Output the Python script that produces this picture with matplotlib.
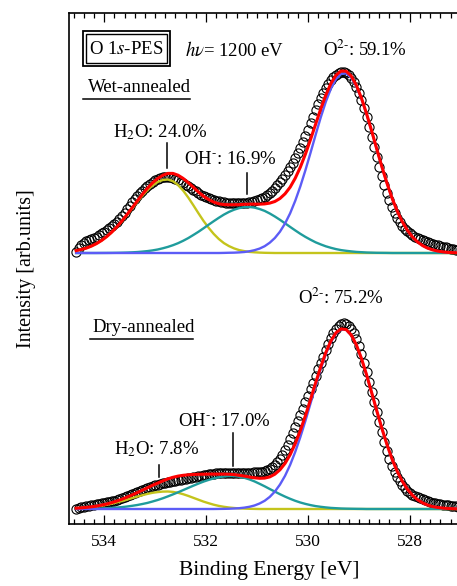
import numpy as np
import matplotlib.pyplot as plt
from matplotlib.patches import Rectangle

plt.rcParams['font.family'] = 'Liberation Serif'
plt.rcParams['mathtext.fontset'] = 'stix'

# measured O 1s spectra, 534.55 eV downwards in 0.05 eV steps (arb. units above baseline)
wet_data = [1, 5, 8, 10, 12, 13, 14, 15, 16, 18,
            20, 21, 23, 25, 27, 29, 31, 34, 37, 40,
            44, 47, 51, 54, 57, 60, 62, 65, 67, 69,
            71, 73, 74, 75, 76, 76, 76, 76, 75, 74,
            73, 71, 70, 68, 67, 65, 63, 62, 60, 58,
            57, 56, 55, 54, 53, 52, 52, 51, 51, 50,
            50, 50, 50, 50, 50, 50, 50, 50, 51, 51,
            52, 53, 54, 55, 56, 58, 60, 62, 65, 68,
            71, 74, 78, 82, 86, 90, 95, 100, 105, 111,
            117, 123, 130, 136, 143, 149, 155, 160, 165, 169,
            173, 176, 178, 180, 181, 181, 180, 178, 175, 171,
            166, 160, 153, 145, 136, 126, 116, 106, 96, 86,
            77, 68, 60, 53, 46, 40, 35, 31, 27, 24,
            22, 20, 18, 16, 15, 14, 13, 12, 11, 10,
            9, 8, 8, 7, 6, 6, 5, 4, 4, 3,
            3]
dry_data = [0, 1, 2, 2, 3, 3, 4, 4, 5, 5,
            6, 6, 7, 7, 8, 8, 9, 10, 11, 12,
            13, 14, 15, 16, 17, 18, 19, 20, 21, 22,
            23, 24, 24, 25, 26, 26, 27, 27, 28, 28,
            29, 29, 30, 30, 31, 31, 32, 32, 33, 33,
            34, 34, 35, 35, 35, 36, 36, 36, 36, 36,
            36, 36, 36, 36, 36, 36, 36, 36, 36, 36,
            37, 37, 37, 37, 38, 39, 40, 42, 44, 47,
            50, 54, 59, 64, 70, 76, 82, 88, 94, 100,
            107, 113, 120, 126, 133, 140, 146, 152, 159, 165,
            171, 176, 180, 183, 185, 186, 185, 183, 180, 176,
            170, 163, 155, 146, 137, 127, 117, 107, 97, 87,
            77, 67, 58, 50, 43, 37, 32, 28, 24, 21,
            18, 16, 14, 13, 12, 11, 10, 9, 8, 7,
            6, 6, 5, 5, 4, 4, 4, 3, 3, 3,
            2]

# fitted components, 534.55 eV downwards in 0.1 eV steps
wet_h2o = [2.4, 3.5, 4.9, 6.9, 9.4, 12.5, 16.3, 20.8, 26.0, 31.8,
           38.1, 44.6, 51.1, 57.3, 62.9, 67.5, 71.0, 73.0, 73.5, 71.8,
           68.0, 62.4, 55.5, 47.8, 39.8, 32.1, 25.2, 19.1, 14.0, 9.9,
           6.9, 4.6, 2.9, 1.9, 1.1, 0.7, 0.4, 0.2, 0.1, 0] + [0] * 36
wet_oh = [0, 0, 0, 0, 0, 0.05, 0.08, 0.13, 0.2, 0.3,
          0.45, 0.67, 0.96, 1.4, 1.9, 2.6, 3.5, 4.7, 6.1, 7.8,
          9.8, 12.2, 14.9, 18.0, 21.2, 24.7, 28.3, 31.8, 35.2, 38.4,
          41.1, 43.3, 44.9, 45.8, 46.0, 45.4, 44.0, 42.1, 39.5, 36.5,
          33.2, 29.7, 26.1, 22.6, 19.2, 16.1, 13.3, 10.7, 8.6, 6.7,
          5.2, 3.9, 2.9, 2.2, 1.6, 1.1, 0.8, 0.5, 0.35, 0.2,
          0.15, 0.1] + [0] * 14
wet_o2 = [0] * 29 + [0.1,
          0.25, 0.34, 0.6, 1.0, 1.7, 2.8, 4.4, 6.8, 10.3, 15.0,
          21.3, 29.5, 39.7, 52.2, 66.6, 82.8, 100.2, 118.1, 135.5, 151.2,
          164.4, 173.9, 179.1, 179.6, 175.3, 166.6, 154.1, 138.8, 121.7, 103.8,
          86.2, 69.8, 54.9, 42.1, 31.4, 22.8, 16.1, 11.1, 7.4, 4.8,
          3.1, 1.9, 1.1, 0.6, 0.35, 0.2]

dry_h2o = [0.7, 1.0, 1.4, 1.9, 2.5, 3.3, 4.2, 5.3, 6.6, 7.9,
           9.4, 10.9, 12.4, 13.8, 15.1, 16.2, 16.9, 17.4, 17.5, 17.1,
           16.2, 14.8, 13.1, 11.2, 9.3, 7.4, 5.8, 4.3, 3.1, 2.2,
           1.5, 1.0, 0.6, 0.4, 0.2, 0.1, 0, 0, 0, 0] + [0] * 36
dry_oh = [0.1, 0.15, 0.2, 0.3, 0.4, 0.6, 0.8, 1.1, 1.45, 1.9,
          2.5, 3.2, 4.0, 5.0, 6.1, 7.5, 9.0, 10.7, 12.6, 14.6,
          16.7, 18.9, 21.1, 23.3, 25.4, 27.4, 29.1, 30.6, 31.7, 32.5,
          33.0, 32.9, 32.3, 31.2, 29.6, 27.6, 25.2, 22.7, 20.0, 17.4,
          14.8, 12.4, 10.2, 8.2, 6.5, 5.1, 3.9, 2.9, 2.2, 1.6,
          1.1, 0.8, 0.5, 0.35, 0.25, 0.15, 0.1, 0, 0, 0] + [0] * 16
dry_o2 = [0] * 28 + [0.08, 0.15,
          0.26, 0.5, 0.8, 1.35, 2.2, 3.5, 5.5, 8.2, 12.1, 17.4,
          24.4, 33.2, 44.1, 57.1, 71.9, 88.2, 105.6, 123.2, 139.9, 154.8,
          167.0, 175.5, 179.6, 179.1, 173.7, 163.9, 150.4, 134.2, 116.4, 98.3,
          80.7, 64.5, 50.0, 37.8, 27.8, 19.9, 13.8, 9.3, 6.1, 3.9,
          2.4, 1.5, 0.9, 0.5, 0.3, 0.15]

wet_offset = 256
be_data = 534.55 - 0.05 * np.arange(len(wet_data))
be_fit = 534.55 - 0.1 * np.arange(len(wet_h2o))

c_h2o = '#c4c41c'
c_oh = '#1f9c9c'
c_o2 = '#5c5cf6'
c_fit = '#ff0000'

fig = plt.figure(figsize=(4.57, 5.86), dpi=100)
ax = fig.add_axes([69 / 457, 61.7 / 586, 401 / 457, 511.6 / 586])

for data, h2o, oh, o2, off in [(wet_data, wet_h2o, wet_oh, wet_o2, wet_offset),
                               (dry_data, dry_h2o, dry_oh, dry_o2, 0)]:
    ax.plot(be_data, np.array(data) + off, 'o', mfc='none', mec='black',
            ms=6.6, mew=0.8, zorder=2)
    h2o, oh, o2 = np.array(h2o), np.array(oh), np.array(o2)
    ax.plot(be_fit, h2o + off, color=c_h2o, lw=1.7, zorder=3)
    ax.plot(be_fit, oh + off, color=c_oh, lw=1.7, zorder=3)
    ax.plot(be_fit, o2 + off, color=c_o2, lw=1.7, zorder=3)
    ax.plot(be_fit, h2o + oh + o2 + off, color=c_fit, lw=2.2, zorder=4)

ax.set_xlim(534.69, 526.82)
ax.set_ylim(-15.3, 496.3)
ax.set_yticks([])
ax.set_xticks([534, 532, 530, 528])
ax.set_xticks(np.arange(527.0, 534.7, 0.2), minor=True)
ax.tick_params(axis='x', which='both', direction='in', top=True, labelsize=12.5, pad=7, width=0.9)
ax.tick_params(axis='x', which='major', length=6.5)
ax.tick_params(axis='x', which='minor', length=3.6)
for s in ax.spines.values():
    s.set_linewidth(1.2)
ax.spines['right'].set_visible(False)

ax.set_xlabel('Binding Energy [eV]', fontsize=15.5, labelpad=8)
ax.set_ylabel('Intensity [arb.units]', fontsize=14.5, labelpad=24)

fs = 13.5
# header row
ax.add_patch(Rectangle((0.0342, 0.8958), 0.2177, 0.069, transform=ax.transAxes,
                       fill=False, lw=1.3, ec='black'))
ax.add_patch(Rectangle((0.0416, 0.9017), 0.2028, 0.0573, transform=ax.transAxes,
                       fill=False, lw=1.0, ec='black'))
ax.text(533.57, 459, r'O 1$\mathit{s}$-PES', fontsize=fs, ha='center', va='center')
ax.text(532.41, 459, r'$h\nu$= 1200 eV', fontsize=fs, ha='left', va='center')
ax.text(529.71, 459, r'O$^{2\text{-}}$: 59.1%', fontsize=fs, ha='left', va='center')

# sample labels
ax.text(534.31, 422, 'Wet-annealed', fontsize=fs, ha='left', va='center')
ax.plot([0.0357, 0.3017], [0.8313, 0.8313], color='black', lw=1.1, transform=ax.transAxes)
ax.text(534.23, 182, 'Dry-annealed', fontsize=fs, ha='left', va='center')
ax.plot([0.0524, 0.31], [0.3616, 0.3616], color='black', lw=1.1, transform=ax.transAxes)

# component labels
ax.text(532.89, 377, r'H$_2$O: 24.0%', fontsize=fs, ha='center', va='center')
ax.plot([532.77, 532.77], [340.7, 365.7], color='black', lw=1.1)
ax.text(531.52, 349, r'OH$^{\text{-}}$: 16.9%', fontsize=fs, ha='center', va='center')
ax.plot([531.20, 531.20], [315, 336.3], color='black', lw=1.1)
ax.text(529.36, 211, r'O$^{2\text{-}}$: 75.2%', fontsize=fs, ha='center', va='center')
ax.text(531.65, 88, r'OH$^{\text{-}}$: 17.0%', fontsize=fs, ha='center', va='center')
ax.plot([531.48, 531.48], [43, 76.3], color='black', lw=1.1)
ax.text(532.98, 60, r'H$_2$O: 7.8%', fontsize=fs, ha='center', va='center')
ax.plot([532.92, 532.92], [32.3, 44], color='black', lw=1.1)

fig.savefig('out.png', dpi=100)
